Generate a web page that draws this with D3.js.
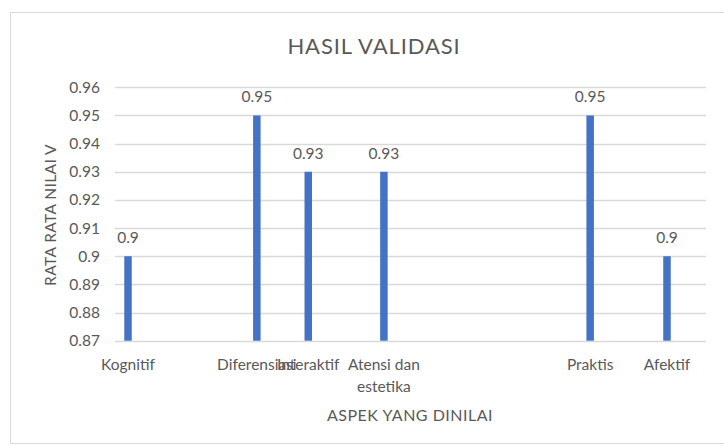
<!DOCTYPE html>
<html>
<head>
<meta charset="utf-8">
<script src="https://cdn.jsdelivr.net/npm/d3@7/dist/d3.min.js"></script>
<style>
  html, body { margin: 0; padding: 0; background: #fff; }
  svg { display: block; font-family: Lato, "Open Sans", sans-serif; }
</style>
</head>
<body>
<svg id="chart" width="724" height="446"></svg>
<script>
// ---- Data ----
const categories = ["Kognitif", "Diferensiasi", "Interaktif", "Atensi dan estetika", "Praktis", "Afektif"];
const values = [0.90, 0.95, 0.93, 0.93, 0.95, 0.90];
// horizontal position of each category along the axis (0..100), as in the original
const xPositions = [2.2, 24.0, 32.7, 45.5, 80.4, 93.4];
const yTicks = [0.87, 0.88, 0.89, 0.90, 0.91, 0.92, 0.93, 0.94, 0.95, 0.96];
const title = "HASIL VALIDASI";
const xTitle = "ASPEK YANG DINILAI";
const yTitle = "RATA RATA NILAI V";

// ---- Layout ----
const svg = d3.select("#chart");
const plotLeft = 115, plotRight = 706, plotTop = 87.3, plotBottom = 340.7;
const x = d3.scaleLinear().domain([0, 100]).range([plotLeft, plotRight]);
const y = d3.scaleLinear().domain([0.87, 0.96]).range([plotBottom, plotTop]);
const textColor = "#595959";
const barColor = "#4472C4";
const fmt = d => d3.format("")(+d.toFixed(2));

// chart border
svg.append("rect").attr("x", 10.5).attr("y", 12.5).attr("width", 730).attr("height", 431)
  .attr("fill", "#fff").attr("stroke", "#d9d9d9").attr("stroke-width", 1);

// title
svg.append("text").attr("x", 374).attr("y", 54).attr("text-anchor", "middle")
  .attr("font-size", 22).attr("letter-spacing", 0.9).attr("fill", textColor).text(title);

// gridlines
svg.append("g").selectAll("line").data(yTicks).join("line")
  .attr("x1", plotLeft).attr("x2", plotRight)
  .attr("y1", d => Math.round(y(d)) + 0.5).attr("y2", d => Math.round(y(d)) + 0.5)
  .attr("stroke", "#d9d9d9").attr("stroke-width", 1.3);

// y axis ticks via d3 axis
const yAxis = d3.axisLeft(y).tickValues(yTicks).tickSize(0).tickPadding(0).tickFormat(fmt);
const gy = svg.append("g").attr("transform", `translate(${plotLeft - 15},0)`).call(yAxis);
gy.select(".domain").remove();
gy.selectAll("text").attr("font-size", 15.5).attr("fill", textColor)
  .attr("font-family", "Lato, 'Open Sans', sans-serif");

// bars
const barW = 7.5;
svg.append("g").selectAll("rect").data(values).join("rect")
  .attr("x", (d, i) => x(xPositions[i]) - barW / 2)
  .attr("y", d => y(d))
  .attr("width", barW)
  .attr("height", d => y(0.87) - y(d))
  .attr("fill", barColor);

// data labels
svg.append("g").selectAll("text").data(values).join("text")
  .attr("x", (d, i) => x(xPositions[i]))
  .attr("y", d => y(d) - 13)
  .attr("text-anchor", "middle").attr("font-size", 15.5).attr("fill", textColor)
  .text(fmt);

// category labels (wrapped as in original)
const wrapped = categories.map(c => c === "Atensi dan estetika" ? ["Atensi dan", "estetika"] : [c]);
const gx = svg.append("g");
wrapped.forEach((lines, i) => {
  const t = gx.append("text").attr("x", x(xPositions[i])).attr("y", 370)
    .attr("text-anchor", "middle").attr("font-size", 15.5).attr("fill", textColor);
  lines.forEach((ln, j) => {
    t.append("tspan").attr("x", x(xPositions[i])).attr("dy", j === 0 ? 0 : 22).text(ln);
  });
});

// axis titles
svg.append("text").attr("x", 410).attr("y", 421).attr("text-anchor", "middle")
  .attr("font-size", 16).attr("letter-spacing", 0.5).attr("fill", textColor).text(xTitle);
svg.append("text").attr("transform", "translate(56,215) rotate(-90)")
  .attr("text-anchor", "middle").attr("font-size", 15.5).attr("letter-spacing", 0.4)
  .attr("fill", textColor).text(yTitle);
</script>
</body>
</html>
